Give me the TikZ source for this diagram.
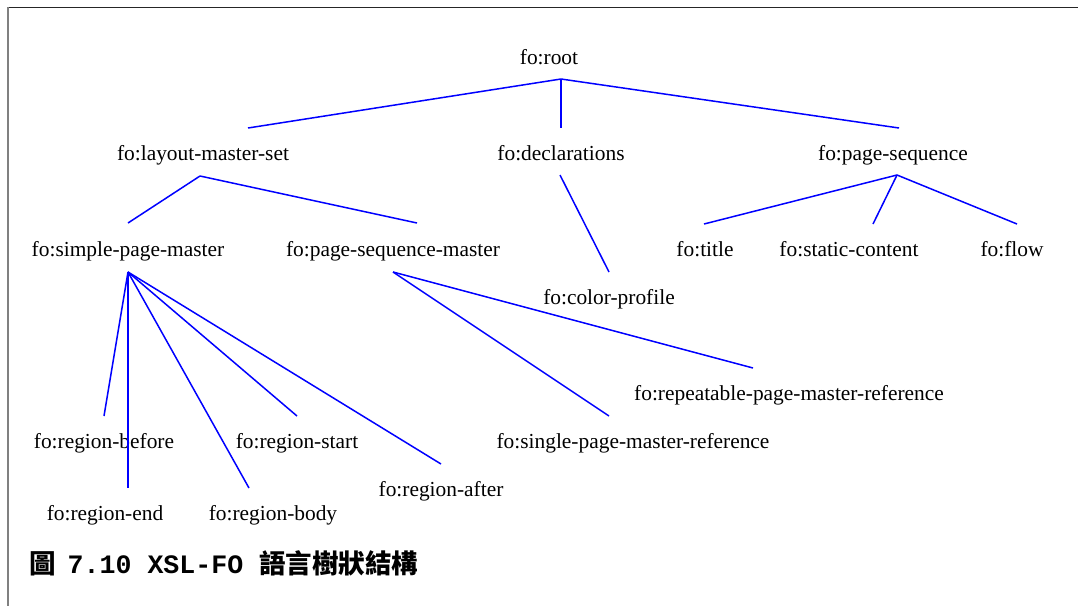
\documentclass[tikz,border=0pt]{standalone}
\usepackage{fontspec}
\setmainfont{Liberation Serif}
\newfontfamily\capmono{Liberation Mono}
\newfontfamily\cjk{Noto Sans CJK TC}
\begin{document}
\begin{tikzpicture}[x=1pt,y=-1pt,
  lbl/.style={anchor=base,inner sep=0pt,font=\fontsize{21.4}{25}\selectfont},
  edge/.style={draw=blue,line width=1.5pt}]
\useasboundingbox (0,0) rectangle (1078,606);
% frame
\draw[black!85,line width=1pt] (8,7) -- (1078,7);
\draw[black!50,line width=1.3pt] (8,7) -- (8,606);
% labels
\node[lbl] (root) at (549,64) {fo:root};
\node[lbl] (lms) at (203,160) {fo:layout-master-set};
\node[lbl] (decl) at (561,160) {fo:declarations};
\node[lbl] (ps) at (893,160) {fo:page-sequence};
\node[lbl] (spm) at (128,256) {fo:simple-page-master};
\node[lbl] (psm) at (393,256) {fo:page-sequence-master};
\node[lbl] (cp) at (609,304) {fo:color-profile};
\node[lbl] (title) at (705,256) {fo:title};
\node[lbl] (sc) at (849,256) {fo:static-content};
\node[lbl] (flow) at (1012,256) {fo:flow};
\node[lbl] (rpmr) at (789,400) {fo:repeatable-page-master-reference};
\node[lbl] (spmr) at (633,448) {fo:single-page-master-reference};
\node[lbl] (rbefore) at (104,448) {fo:region-before};
\node[lbl] (rstart) at (297,448) {fo:region-start};
\node[lbl] (rafter) at (441,496) {fo:region-after};
\node[lbl] (rend) at (105,520) {fo:region-end};
\node[lbl] (rbody) at (273,520) {fo:region-body};
\node[anchor=base west,inner sep=0pt] (cap) at (29,573)
  {\capmono\bfseries\fontsize{26.6}{30}\selectfont{\cjk\bfseries\fontsize{26.5}{30}\selectfont 圖}\hspace{12pt}7.10 XSL-FO\ {\cjk\bfseries\fontsize{26.5}{30}\selectfont 語言樹狀結構}};
% attachment points
\coordinate (root-b) at (561,79);
\coordinate (lms-t) at (248,128);
\coordinate (decl-t) at (561,128);
\coordinate (ps-t) at (899,128);
\coordinate (lms-b) at (200,176);
\coordinate (decl-b) at (560,175);
\coordinate (ps-b) at (897,175);
\coordinate (spm-t) at (128,223);
\coordinate (psm-t) at (417,223);
\coordinate (cp-t) at (609,272);
\coordinate (title-t) at (704,224);
\coordinate (sc-t) at (873,224);
\coordinate (flow-t) at (1017,224);
\coordinate (spm-b) at (128,272);
\coordinate (psm-b) at (393,272);
\coordinate (rbefore-t) at (104,416);
\coordinate (rend-t) at (128,488);
\coordinate (rbody-t) at (249,488);
\coordinate (rstart-t) at (297,416);
\coordinate (rafter-t) at (441,464);
\coordinate (spmr-t) at (609,416);
\coordinate (rpmr-t) at (753,368);
% connectors
\path[edge] (root-b) -- (lms-t);
\path[edge] (root-b) -- (decl-t);
\path[edge] (root-b) -- (ps-t);
\path[edge] (lms-b) -- (spm-t);
\path[edge] (lms-b) -- (psm-t);
\path[edge] (decl-b) -- (cp-t);
\path[edge] (ps-b) -- (title-t);
\path[edge] (ps-b) -- (sc-t);
\path[edge] (ps-b) -- (flow-t);
\path[edge] (spm-b) -- (rbefore-t);
\path[edge] (spm-b) -- (rend-t);
\path[edge] (spm-b) -- (rbody-t);
\path[edge] (spm-b) -- (rstart-t);
\path[edge] (spm-b) -- (rafter-t);
\path[edge] (psm-b) -- (spmr-t);
\path[edge] (psm-b) -- (rpmr-t);
\end{tikzpicture}
\end{document}
